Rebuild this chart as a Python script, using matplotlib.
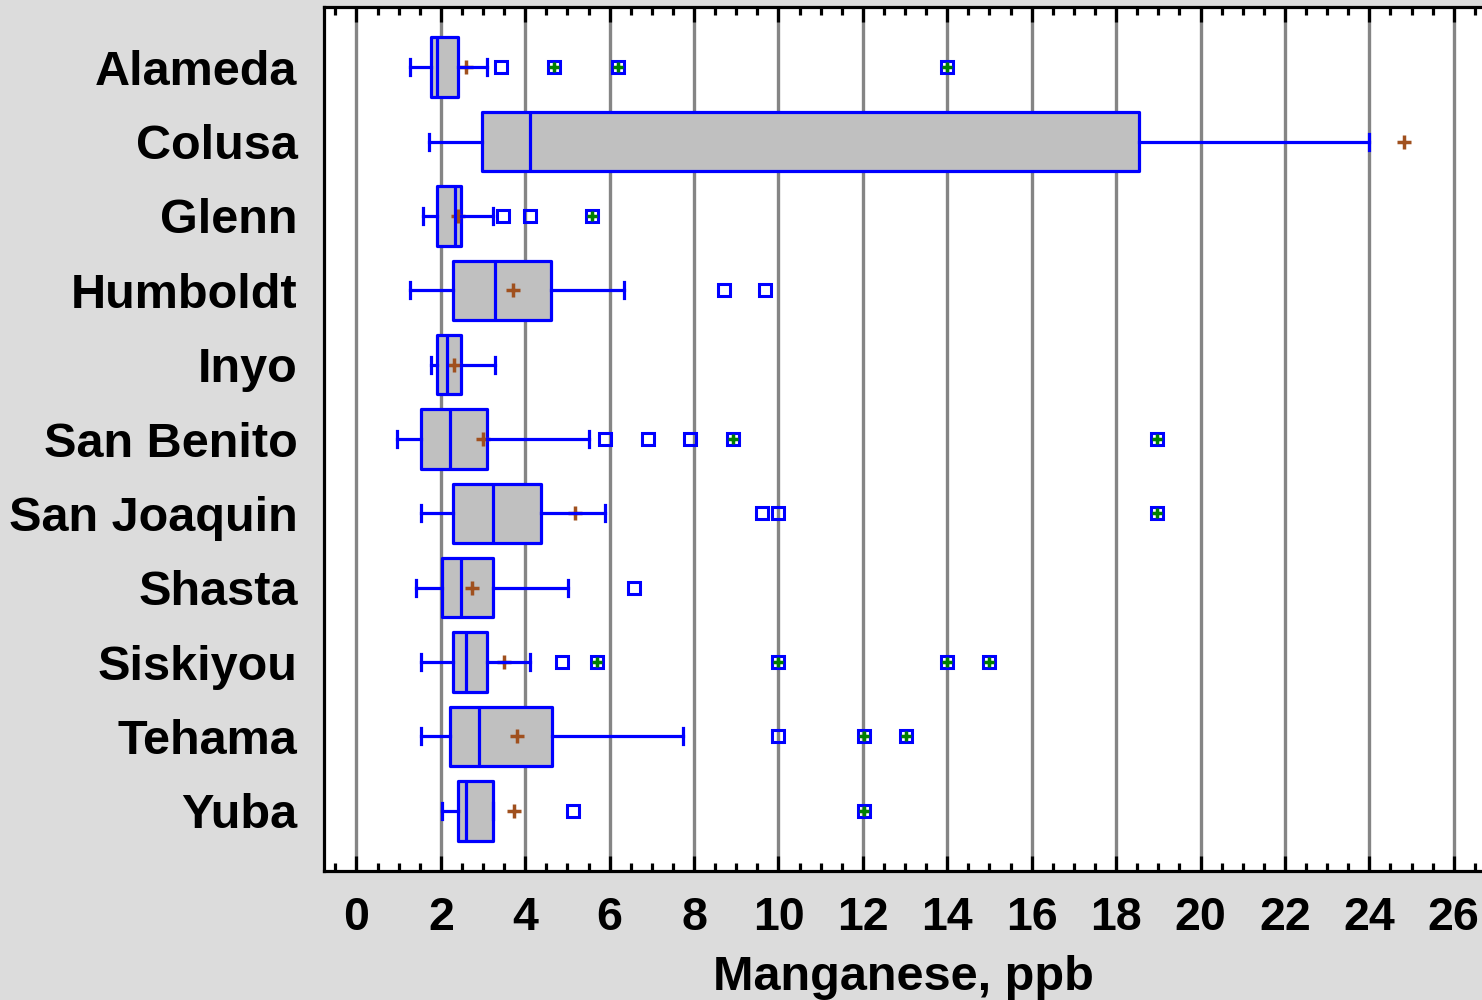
import matplotlib.pyplot as plt
import numpy as np
from matplotlib.ticker import MultipleLocator

counties = ["Alameda", "Colusa", "Glenn", "Humboldt", "Inyo", "San Benito",
            "San Joaquin", "Shasta", "Siskiyou", "Tehama", "Yuba"]

# box statistics (ppb)
whislo = [1.26, 1.71, 1.58, 1.26, 1.77, 0.96, 1.52, 1.40, 1.53, 1.53, 2.03]
q1 = [1.76, 2.97, 1.90, 2.28, 1.90, 1.52, 2.28, 2.02, 2.28, 2.22, 2.40]
med = [1.90, 4.11, 2.34, 3.28, 2.15, 2.21, 3.23, 2.48, 2.60, 2.90, 2.60]
q3 = [2.41, 18.55, 2.47, 4.62, 2.47, 3.10, 4.37, 3.23, 3.10, 4.63, 3.24]
whishi = [3.10, 24.0, 3.23, 6.33, 3.28, 5.51, 5.89, 5.01, 4.11, 7.73, 3.24]
means = [2.59, 24.81, 2.40, 3.72, 2.31, 3.00, 5.19, 2.73, 3.49, 3.80, 3.74]

# outside points (blue squares) and far outside points (square + green plus)
outside = [[3.42], [], [3.48, 4.11], [8.72, 9.67], [], [5.89, 6.90, 7.91],
           [9.62, 10.0], [6.58], [4.87], [10.0], [5.13]]
far_out = [[4.68, 6.20, 14.0], [], [5.58], [], [], [8.93, 18.98],
           [18.98], [], [5.70, 10.0, 14.0, 15.0], [12.02, 13.03], [12.02]]

plt.rcParams['font.family'] = ['Liberation Sans', 'DejaVu Sans']
plt.rcParams['font.weight'] = 'bold'

fig = plt.figure(figsize=(14.82, 10), dpi=100, facecolor='#dcdcdc')
ax = fig.add_axes([0.2186, 0.129, 0.7814, 0.864])
ax.set_facecolor('white')

stats = []
for i in range(len(counties)):
    stats.append(dict(whislo=whislo[i], q1=q1[i], med=med[i], q3=q3[i],
                      whishi=whishi[i], mean=means[i],
                      fliers=outside[i] + far_out[i]))

pos = np.arange(1, len(counties) + 1)
blue = '#0000ff'
ax.bxp(stats, positions=pos, vert=False, widths=0.8, capwidths=0.215,
       patch_artist=True, showmeans=True, showfliers=True,
       boxprops=dict(facecolor='#c0c0c0', edgecolor=blue, linewidth=2.3,
                     joinstyle='round', zorder=2),
       medianprops=dict(color=blue, linewidth=2.3, zorder=3),
       whiskerprops=dict(color=blue, linewidth=2.3, zorder=3),
       capprops=dict(color=blue, linewidth=2.3, zorder=3),
       meanprops=dict(marker='+', markeredgecolor='#a0501e', markersize=10,
                      markeredgewidth=2.5, linestyle='none', zorder=2.5),
       flierprops=dict(marker='s', markerfacecolor='none', markeredgecolor=blue,
                       markersize=8, markeredgewidth=2.2, zorder=3))

for i, pts in enumerate(far_out):
    if pts:
        ax.plot(pts, [pos[i]] * len(pts), linestyle='none', marker='+',
                color='#008000', markersize=7, markeredgewidth=2.5, zorder=4)

ax.set_xlim(-0.77, 26.67)
ax.set_ylim(11.81, 0.19)
ax.set_yticks(pos)
ax.set_yticklabels(counties)
ax.xaxis.set_major_locator(MultipleLocator(2))
ax.xaxis.set_minor_locator(MultipleLocator(0.5))

ax.grid(True, axis='x', which='major', color='#858585', linewidth=2.4)
ax.set_axisbelow(True)
ax.tick_params(axis='x', which='both', direction='in', top=True, bottom=True,
               width=2.3, labelsize=33.5, pad=18)
ax.tick_params(axis='x', which='major', length=11)
ax.tick_params(axis='x', which='minor', length=5.5)
ax.tick_params(axis='y', length=0, labelsize=35, pad=19)

for side in ['left', 'top', 'bottom']:
    ax.spines[side].set_linewidth(2.3)
ax.spines['right'].set_visible(False)

ax.set_xlabel('Manganese, ppb', fontsize=35, fontweight='bold', labelpad=11)

fig.savefig('out.png', dpi=100, facecolor=fig.get_facecolor())
